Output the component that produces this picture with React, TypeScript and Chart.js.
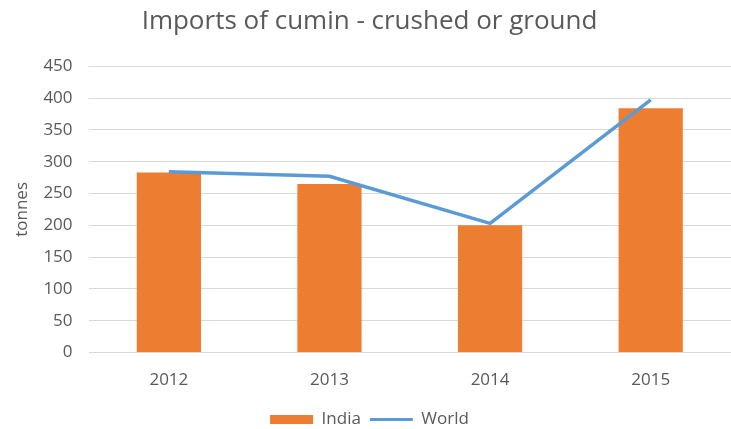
import React, { useEffect, useRef } from "react";
import { Chart, registerables } from "chart.js";

Chart.register(...registerables);

const categories = ["2012", "2013", "2014", "2015"];
const indiaValues = [283, 265, 200, 384];
const worldValues = [284, 277, 203, 397];
const titleText = "Imports of cumin - crushed or ground";
const yAxisTitle = "tonnes";

const ORANGE = "#ED7D31";
const BLUE = "#5B9BD5";
const TEXT = "#595959";
const FONT = "'Open Sans', sans-serif";

export default function App() {
  const ref = useRef<HTMLCanvasElement | null>(null);

  useEffect(() => {
    document.body.style.margin = "0";
    const canvas = ref.current;
    if (!canvas) return;
    const chart = new Chart(canvas, {
      type: "bar",
      data: {
        labels: categories,
        datasets: [
          {
            type: "bar",
            label: "India",
            data: indiaValues,
            backgroundColor: ORANGE,
            borderWidth: 0,
            barPercentage: 0.4,
            categoryPercentage: 1,
            order: 1,
          },
          {
            type: "line",
            label: "World",
            data: worldValues,
            borderColor: BLUE,
            backgroundColor: BLUE,
            borderWidth: 3.5,
            pointRadius: 0,
            tension: 0,
            order: 0,
          } as any,
        ],
      },
      options: {
        responsive: false,
        animation: false,
        layout: { padding: { left: 8, right: 0, top: 0, bottom: -9 } },
        plugins: {
          tooltip: { enabled: false },
          title: {
            display: true,
            text: titleText,
            color: TEXT,
            font: { family: FONT, size: 26, weight: "normal" },
            padding: { top: 6, bottom: 29 },
          },
          legend: {
            position: "bottom",
            labels: {
              usePointStyle: true,
              pointStyleWidth: 43,
              boxHeight: 9,
              padding: 9,
              color: TEXT,
              font: { family: FONT, size: 17 },
              generateLabels: (ch: any) =>
                ch.data.datasets.map((ds: any, i: number) => ({
                  text: ds.label,
                  fillStyle: i === 0 ? ORANGE : BLUE,
                  strokeStyle: i === 0 ? ORANGE : BLUE,
                  lineWidth: i === 0 ? 0 : 3,
                  pointStyle: i === 0 ? "rect" : "line",
                  hidden: false,
                  datasetIndex: i,
                  fontColor: TEXT,
                })),
            },
          },
        },
        scales: {
          x: {
            grid: { display: false },
            border: { display: false },
            ticks: {
              color: TEXT,
              font: { family: FONT, size: 17 },
              padding: 9,
            },
            afterFit: (scale: any) => {
              scale.height += 3;
            },
          },
          y: {
            min: 0,
            max: 450,
            border: { display: false },
            grid: { color: "#d9d9d9", lineWidth: 1, drawTicks: false },
            ticks: {
              stepSize: 50,
              color: TEXT,
              font: { family: FONT, size: 17 },
              padding: 16,
            },
            title: {
              display: true,
              text: yAxisTitle,
              color: TEXT,
              font: { family: FONT, size: 17 },
              padding: { top: 4, bottom: -5 },
            },
          },
        },
      },
    });
    return () => chart.destroy();
  }, []);

  return <canvas ref={ref} width={731} height={429} style={{ display: "block" }} />;
}
